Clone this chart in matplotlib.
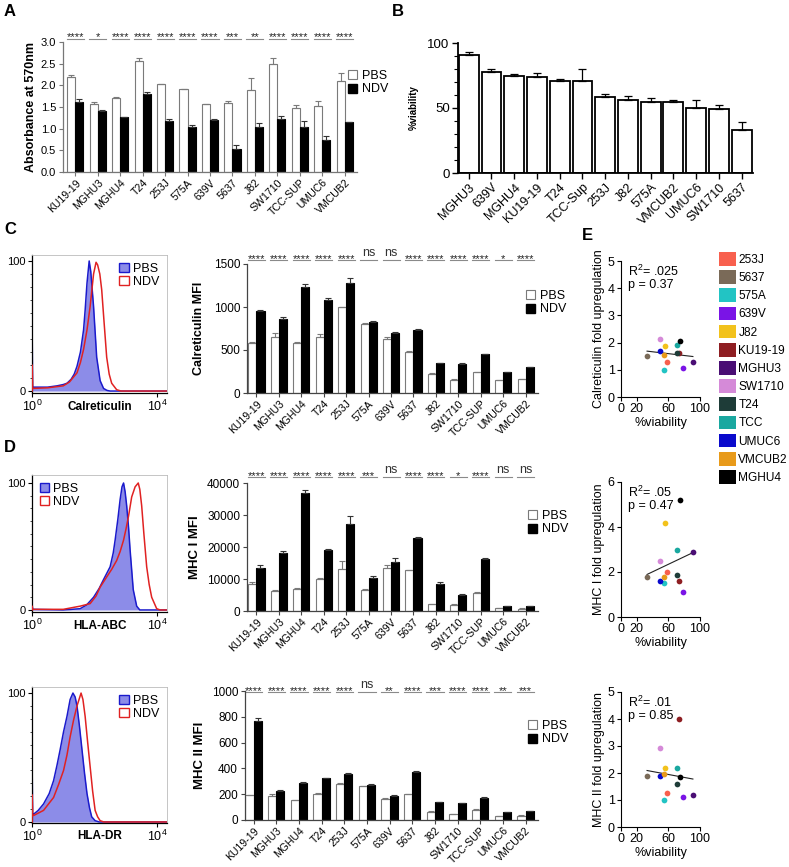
import numpy as np
import matplotlib
matplotlib.use("Agg")
import matplotlib.pyplot as plt
from matplotlib.patches import Patch
from matplotlib.ticker import MultipleLocator, FixedLocator, NullFormatter, LogLocator
import matplotlib.transforms as mtransforms

plt.rcParams['font.family'] = ['Liberation Sans', 'DejaVu Sans']

W, H = 789, 867
fig = plt.figure(figsize=(W / 100, H / 100), dpi=100)

def add_ax(l, t, r, b):
    return fig.add_axes([l / W, 1 - b / H, (r - l) / W, (b - t) / H])

# ---------------- data ----------------
lines13 = ['KU19-19', 'MGHU3', 'MGHU4', 'T24', '253J', '575A', '639V', '5637',
           'J82', 'SW1710', 'TCC-SUP', 'UMUC6', 'VMCUB2']

# Panel A
abs_pbs = [2.20, 1.57, 1.71, 2.57, 2.02, 1.91, 1.57, 1.60, 1.89, 2.50, 1.47, 1.52, 2.11]
abs_pbs_err = [0.04, 0.04, 0.01, 0.07, 0.01, 0.01, 0.01, 0.05, 0.27, 0.14, 0.07, 0.12, 0.18]
abs_ndv = [1.61, 1.41, 1.26, 1.80, 1.17, 1.04, 1.21, 0.53, 1.05, 1.22, 1.03, 0.74, 1.15]
abs_ndv_err = [0.07, 0.03, 0.02, 0.04, 0.05, 0.05, 0.02, 0.09, 0.07, 0.08, 0.14, 0.10, 0.01]
abs_sig = ['****', '*', '****', '****', '****', '****', '****', '***', '**', '****', '****', '****', '****']

# Panel B
via_lines = ['MGHU3', '639V', 'MGHU4', 'KU19-19', 'T24', 'TCC-Sup', '253J', 'J82',
             '575A', 'VMCUB2', 'UMUC6', 'SW1710', '5637']
via_vals = [91, 78, 75, 74, 71, 71, 58.5, 56, 55, 55, 49.7, 49.2, 33]
via_err = [2, 2, 1.5, 3, 1.5, 9, 2, 3.5, 3, 1, 6.3, 3, 6]

# Panel C calreticulin MFI
crt_pbs = [587, 653, 587, 653, 995, 800, 633, 478, 225, 155, 241, 148, 159]
crt_pbs_err = [10, 40, 8, 38, 10, 10, 22, 6, 5, 4, 5, 4, 4]
crt_ndv = [952, 859, 1228, 1080, 1282, 824, 703, 734, 346, 340, 453, 244, 302]
crt_ndv_err = [10, 20, 35, 30, 58, 10, 10, 8, 5, 5, 5, 5, 5]
crt_sig = ['****', '****', '****', '****', '****', 'ns', 'ns', '****', '****', '****', '****', '*', '****']

# Panel D MHC I MFI
mhc1_pbs = [8300, 6400, 6950, 10100, 13200, 6650, 13500, 12700, 2050, 2000, 5600, 950, 750]
mhc1_pbs_err = [730, 300, 200, 300, 2300, 200, 1000, 200, 200, 150, 200, 100, 100]
mhc1_ndv = [13500, 18200, 37000, 19000, 27300, 10400, 15300, 22900, 8500, 4900, 16400, 1550, 1450]
mhc1_ndv_err = [730, 700, 940, 400, 2300, 500, 1350, 200, 600, 300, 200, 100, 100]
mhc1_sig = ['****', '****', '****', '****', '****', '***', 'ns', '****', '****', '*', '****', 'ns', 'ns']

# MHC II MFI
mhc2_pbs = [191, 186, 152, 202, 279, 261, 163, 199, 65, 44, 80, 28, 34]
mhc2_pbs_err = [5, 16, 3, 5, 5, 3, 4, 3, 3, 2, 3, 2, 2]
mhc2_ndv = [767, 225, 287, 323, 359, 271, 186, 375, 140, 129, 173, 59, 67]
mhc2_ndv_err = [20, 5, 5, 5, 6, 5, 4, 3, 3, 3, 3, 2, 2]
mhc2_sig = ['****', '****', '****', '****', '****', 'ns', '**', '****', '***', '****', '****', '**', '***']

# Panel E scatter
sc_lines = ['253J', '5637', '575A', '639V', 'J82', 'KU19-19', 'MGHU3', 'SW1710',
            'T24', 'TCC', 'UMUC6', 'VMCUB2', 'MGHU4']
sc_colors = ['#F8604E', '#7A6A58', '#22C4C4', '#7A14E6', '#F2C21C', '#8E1E22', '#4A0E74',
             '#D58AD8', '#1E3C38', '#1AA8A0', '#0A0ACC', '#E89A1A', '#000000']
sc_via = [58.5, 33, 55, 78, 56, 74, 91, 49.2, 71, 71, 49.7, 55, 75]
crt_fold = [1.27, 1.51, 1.00, 1.08, 1.89, 1.60, 1.28, 2.15, 1.62, 1.92, 1.68, 1.54, 2.06]
mhc1_fold = [2.02, 1.80, 1.53, 1.12, 4.20, 1.62, 2.87, 2.47, 1.88, 2.96, 1.62, 1.77, 5.21]
mhc2_fold = [1.26, 1.89, 1.01, 1.12, 2.17, 3.99, 1.20, 2.94, 1.59, 2.19, 1.90, 1.98, 1.85]
stats_txt = [('.025', '0.37'), ('.05', '0.47'), ('.01', '0.85')]

# Flow histograms (log10 intensity, % of max)
crt_pbs_lx = [0.004, 0.006, 0.02, 0.5, 0.8, 1.0, 1.12, 1.25, 1.35, 1.44, 1.55, 1.65, 1.70, 1.76, 1.83, 1.88, 1.97, 2.07, 2.18, 2.29, 2.40, 2.50, 4.32]
crt_pbs_y = [0, 42, 3, 3, 4, 5, 6, 9, 13, 19, 30, 47, 62, 83, 100, 92, 65, 26, 8, 2, 0.5, 0, 0]
crt_ndv_lx = [0.004, 0.006, 0.02, 0.5, 1.0, 1.2, 1.44, 1.55, 1.65, 1.76, 1.86, 1.97, 2.05, 2.10, 2.17, 2.23, 2.30, 2.39, 2.47, 2.55, 2.71, 2.85, 4.32]
crt_ndv_y = [0, 20, 2, 2.5, 4, 7, 14, 22, 32, 47, 65, 90, 99, 97, 90, 78, 55, 26, 13, 6, 1, 0, 0]
abc_pbs_lx = [0.004, 0.006, 0.02, 1.0, 1.54, 1.75, 1.97, 2.15, 2.29, 2.50, 2.60, 2.66, 2.75, 2.82, 2.88, 2.93, 2.98, 3.03, 3.09, 3.14, 3.24, 3.35, 3.45, 4.32]
abc_pbs_y = [0, 4, 0.5, 0, 1, 4, 10, 17, 24, 34, 45, 55, 72, 87, 97, 100, 93, 82, 65, 47, 16, 3, 0, 0]
abc_ndv_lx = [0.004, 0.006, 0.02, 1.0, 1.54, 1.86, 2.05, 2.18, 2.39, 2.55, 2.71, 2.82, 2.93, 3.01, 3.09, 3.19, 3.30, 3.40, 3.45, 3.51, 3.58, 3.67, 3.75, 3.83, 3.99, 4.10, 4.32]
abc_ndv_y = [0, 3, 0.5, 0.5, 3, 5, 11, 18, 26, 32, 39, 46, 55, 64, 74, 89, 97, 100, 95, 82, 60, 34, 20, 10, 1, 0, 0]
dr_pbs_lx = [0.004, 0.006, 0.02, 0.05, 0.2, 0.37, 0.55, 0.69, 0.8, 0.9, 1.01, 1.12, 1.22, 1.31, 1.38, 1.44, 1.52, 1.60, 1.68, 1.76, 1.84, 1.91, 2.02, 2.15, 4.32]
dr_pbs_y = [0, 38, 6, 6, 9, 14, 22, 32, 44, 56, 70, 82, 95, 100, 97, 90, 74, 56, 38, 22, 11, 4, 1, 0, 0]
dr_ndv_lx = [0.004, 0.006, 0.02, 0.05, 0.37, 0.69, 0.85, 1.01, 1.12, 1.22, 1.33, 1.44, 1.57, 1.63, 1.70, 1.78, 1.86, 1.94, 2.02, 2.10, 2.18, 2.30, 4.32]
dr_ndv_y = [0, 21, 5, 5, 9, 19, 29, 40, 52, 66, 79, 90, 100, 95, 82, 62, 43, 24, 9, 4, 1, 0, 0]

PBS_EDGE = '#7a7a7a'

# ---------------- helpers ----------------
def grouped_bars(ax, pbs, pbs_err, ndv, ndv_err, sig, ymax, sig_y, tickfs, yticks, yfmt, spine_col='#444444', w=0.36):
    x = np.arange(len(lines13))
    ax.bar(x - w / 2, pbs, w, color='white', edgecolor=PBS_EDGE, linewidth=0.8, zorder=2)
    ax.bar(x + w / 2, ndv, w, color='black', edgecolor='black', linewidth=0.8, zorder=2)
    ax.errorbar(x - w / 2, pbs, yerr=[np.zeros(len(x)), pbs_err], fmt='none', ecolor=PBS_EDGE,
                elinewidth=0.8, capsize=2, capthick=0.8, zorder=3)
    ax.errorbar(x + w / 2, ndv, yerr=[np.zeros(len(x)), ndv_err], fmt='none', ecolor='#333333',
                elinewidth=0.8, capsize=2, capthick=0.8, zorder=3)
    ax.set_ylim(0, ymax)
    ax.set_yticks(yticks)
    ax.set_yticklabels([yfmt(v) for v in yticks], fontsize=tickfs)
    ax.set_xticks(x)
    ax.set_xticklabels(lines13, rotation=45, ha='right', rotation_mode='anchor', fontsize=7.6)
    for s in ['top', 'right']:
        ax.spines[s].set_visible(False)
    for s in ['left', 'bottom']:
        ax.spines[s].set_color(spine_col)
        ax.spines[s].set_linewidth(0.9)
    ax.tick_params(axis='both', colors=spine_col, length=3, width=0.8, pad=2, labelcolor='black')
    ax.tick_params(axis='x', pad=1)
    trans = mtransforms.blended_transform_factory(ax.transData, ax.transAxes)
    for i, s in enumerate(sig):
        ax.plot([i - 0.38, i + 0.38], [sig_y, sig_y], color='#8a8a8a', lw=0.8, transform=trans, clip_on=False)
        if s == 'ns':
            ax.text(i, sig_y + 0.012, s, fontsize=9, ha='center', va='bottom', transform=trans, color='#333333')
        else:
            ax.text(i, sig_y - 0.012, s, fontsize=8, ha='center', va='baseline', transform=trans, color='#222222')
    return x

def bar_legend(ax, px, py):
    handles = [Patch(facecolor='white', edgecolor=PBS_EDGE, linewidth=0.8),
               Patch(facecolor='black', edgecolor='black')]
    fig.legend(handles, ['PBS', 'NDV'], loc='upper left', bbox_to_anchor=(px / W, 1 - py / H),
               frameon=False, fontsize=9, handlelength=0.75, handleheight=0.75,
               handletextpad=0.35, labelspacing=0.12, borderpad=0, borderaxespad=0)

def hist_panel(ax, pbs_lx, pbs_y, ndv_lx, ndv_y, label, ylims, leg_loc):
    xp = 10 ** np.array(pbs_lx)
    xn = 10 ** np.array(ndv_lx)
    ax.fill_between(xp, 0, pbs_y, color='#8c8ce8', lw=0, zorder=1)
    ax.plot(xp, pbs_y, color='#1a1acc', lw=1.1, zorder=2)
    ax.plot(xn, ndv_y, color='#e02222', lw=1.1, zorder=3)
    ax.set_xscale('log')
    ax.set_xlim(1, 10 ** 4.32)
    ax.set_ylim(*ylims)
    ax.set_yticks([0, 100])
    ax.set_yticklabels(['0', '100'], fontsize=8)
    ax.yaxis.set_minor_locator(MultipleLocator(10))
    ax.set_xticks([1, 1e4])
    ax.set_xticklabels(['$\\mathregular{10^0}$', '$\\mathregular{10^4}$'], fontsize=9)
    ax.xaxis.set_minor_locator(LogLocator(base=10, subs=np.arange(2, 10)))
    ax.xaxis.set_minor_formatter(NullFormatter())
    ax.tick_params(axis='both', which='major', length=3, width=0.8, pad=1.5)
    ax.tick_params(axis='both', which='minor', length=1.6, width=0.5)
    for s in ['top', 'right']:
        ax.spines[s].set_color('#bbbbbb')
        ax.spines[s].set_linewidth(0.6)
    for s in ['left', 'bottom']:
        ax.spines[s].set_linewidth(0.9)
    ax.text(0.5, -0.055, label, transform=ax.transAxes, ha='center', va='top', fontsize=8.5, fontweight='bold')
    handles = [Patch(facecolor='#8c8ce8', edgecolor='#1a1acc', linewidth=1.0),
               Patch(facecolor='white', edgecolor='#e02222', linewidth=1.0)]
    ax.legend(handles, ['PBS', 'NDV'], loc=leg_loc, frameon=False, fontsize=9,
              handlelength=0.75, handleheight=0.75, handletextpad=0.35, labelspacing=0.1,
              borderpad=0.3, borderaxespad=0.3)

def scatter_panel(ax, fold, ymax, yticks, ylabel, r2, pval):
    for xv, yv, c in zip(sc_via, fold, sc_colors):
        ax.scatter([xv], [yv], s=17, color=c, zorder=3, linewidths=0)
    coef = np.polyfit(sc_via, fold, 1)
    xs = np.array([min(sc_via), max(sc_via)])
    ax.plot(xs, np.polyval(coef, xs), color='#222222', lw=0.8, zorder=2)
    ax.set_xlim(0, 100)
    ax.set_ylim(0, ymax)
    ax.set_xticks([0, 20, 60, 100])
    ax.set_xticklabels(['0', '20', '60', '100'], fontsize=9)
    ax.set_yticks(yticks)
    ax.set_yticklabels([str(v) for v in yticks], fontsize=9)
    for s in ['top', 'right']:
        ax.spines[s].set_visible(False)
    ax.tick_params(axis='both', length=3, width=0.8, pad=1.5)
    ax.set_xlabel('%viability', fontsize=9, labelpad=1)
    ax.set_ylabel(ylabel, fontsize=9, labelpad=2)
    ax.text(0.09, 0.98, '$\\mathregular{R^2}$= ' + r2 + '\np = ' + pval, transform=ax.transAxes,
            ha='left', va='top', fontsize=9, linespacing=1.0)

# ---------------- Panel A ----------------
axA = add_ax(63, 42, 357, 172)
grouped_bars(axA, abs_pbs, abs_pbs_err, abs_ndv, abs_ndv_err, abs_sig, 3.0, 1.025, 8,
             [0, 0.5, 1.0, 1.5, 2.0, 2.5, 3.0], lambda v: f'{v:.1f}', spine_col='#777777')
axA.set_xlim(-0.55, 12.55)
axA.set_ylabel('Absorbance at 570nm', fontsize=9, fontweight='bold', labelpad=3)
bar_legend(axA, 348, 70)

# ---------------- Panel B ----------------
axB = add_ax(458, 43, 753, 173)
xb = np.arange(len(via_lines))
axB.bar(xb, via_vals, 0.87, color='white', edgecolor='black', linewidth=1.3, zorder=2)
axB.errorbar(xb, via_vals, yerr=[np.zeros(len(xb)), via_err], fmt='none', ecolor='black',
             elinewidth=0.9, capsize=3, capthick=0.9, zorder=3)
axB.set_xlim(-0.47, 12.5)
axB.set_ylim(0, 100)
axB.set_yticks([0, 50, 100])
axB.set_yticklabels(['0', '50', '100'], fontsize=9.5)
axB.yaxis.set_minor_locator(MultipleLocator(10))
axB.set_xticks(xb)
axB.set_xticklabels(via_lines, rotation=45, ha='right', rotation_mode='anchor', fontsize=9)
for s in ['top', 'right']:
    axB.spines[s].set_visible(False)
for s in ['left', 'bottom']:
    axB.spines[s].set_linewidth(1.3)
axB.tick_params(axis='both', which='major', length=4, width=1.0, pad=2)
axB.tick_params(axis='y', which='minor', length=3, width=0.8)
axB.set_ylabel('%viability', fontsize=7, fontweight='bold', labelpad=6)

# ---------------- Panel C ----------------
axCh = add_ax(32, 255, 167, 393)
hist_panel(axCh, crt_pbs_lx, crt_pbs_y, crt_ndv_lx, crt_ndv_y, 'Calreticulin', (-1.5, 104.6), 'upper right')

axCb = add_ax(247, 264, 538, 393)
grouped_bars(axCb, crt_pbs, crt_pbs_err, crt_ndv, crt_ndv_err, crt_sig, 1500, 1.03, 8.5,
             [0, 500, 1000, 1500], lambda v: f'{int(v)}')
axCb.set_xlim(-0.42, 12.55)
axCb.set_ylabel('Calreticulin MFI', fontsize=9, fontweight='bold', labelpad=6)
bar_legend(axCb, 526, 290)

axCs = add_ax(621, 261, 700, 397)
scatter_panel(axCs, crt_fold, 5, [0, 1, 2, 3, 4, 5], 'Calreticulin fold upregulation', *stats_txt[0])

# ---------------- Panel D ----------------
axDh = add_ax(32, 475, 167, 612)
hist_panel(axDh, abc_pbs_lx, abc_pbs_y, abc_ndv_lx, abc_ndv_y, 'HLA-ABC', (-1.6, 106.3), 'upper left')

axDb = add_ax(247, 483, 538, 611)
grouped_bars(axDb, mhc1_pbs, mhc1_pbs_err, mhc1_ndv, mhc1_ndv_err, mhc1_sig, 40000, 1.045, 8.5,
             [0, 10000, 20000, 30000, 40000], lambda v: f'{int(v)}')
axDb.set_xlim(-0.42, 12.55)
axDb.set_ylabel('MHC I MFI', fontsize=9.5, fontweight='bold', labelpad=4)
bar_legend(axDb, 528, 510)

axDs = add_ax(621, 482, 700, 617)
scatter_panel(axDs, mhc1_fold, 6, [0, 2, 4, 6], 'MHC I fold upregulation', *stats_txt[1])

# ---------------- MHC II row ----------------
axEh = add_ax(32, 687, 167, 823)
hist_panel(axEh, dr_pbs_lx, dr_pbs_y, dr_ndv_lx, dr_ndv_y, 'HLA-DR', (-0.8, 104.7), 'upper right')

axEb = add_ax(245, 691, 538, 820)
grouped_bars(axEb, mhc2_pbs, mhc2_pbs_err, mhc2_ndv, mhc2_ndv_err, mhc2_sig, 1000, 0.99, 8.5,
             [0, 200, 400, 600, 800, 1000], lambda v: f'{int(v)}')
axEb.set_xlim(-0.38, 12.55)
axEb.set_ylabel('MHC II MFI', fontsize=9.5, fontweight='bold', labelpad=4)
bar_legend(axEb, 528, 720)

axEs = add_ax(621, 692, 700, 827)
scatter_panel(axEs, mhc2_fold, 5, [0, 1, 2, 3, 4, 5], 'MHC II fold upregulation', *stats_txt[2])

# ---------------- E legend ----------------
sc_handles = [Patch(facecolor=c, edgecolor='none') for c in sc_colors]
fig.legend(sc_handles, sc_lines, loc='upper left', bbox_to_anchor=(719 / W, 1 - 252 / H),
           frameon=False, fontsize=8.6, handlelength=1.4, handleheight=1.4,
           handletextpad=0.22, labelspacing=0.36, borderpad=0, borderaxespad=0)

# ---------------- panel letters ----------------
for letter, (px, py) in {'A': (4, 4), 'B': (392, 4), 'C': (4, 222), 'D': (4, 440), 'E': (582, 228)}.items():
    fig.text(px / W, 1 - py / H, letter, fontsize=12, fontweight='bold', ha='left', va='top')

fig.savefig('out.png', dpi=100)
